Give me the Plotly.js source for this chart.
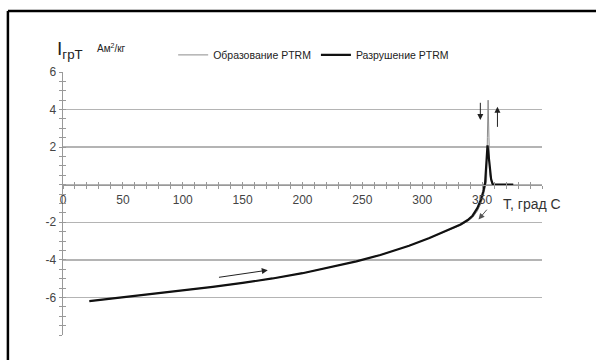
<!DOCTYPE html>
<html>
<head>
<meta charset="utf-8">
<script src="https://cdn.plot.ly/plotly-3.0.1.min.js"></script>
<style>
html,body{margin:0;padding:0;background:#fff;}
#chart{width:596px;height:360px;}
</style>
</head>
<body>
<div id="chart"></div>
<script>
// Data
var seriesNames = ["Образование PTRM", "Разрушение PTRM"];
var tempFormation = [22, 50, 75, 100, 125, 150, 175, 200, 225, 245, 265, 280, 289, 306, 322, 332, 338, 342, 346, 349, 351, 352.5, 353.7, 354.4, 355, 355.7, 356.5, 358, 362, 376];
var valFormation  = [-6.2, -6.0, -5.82, -5.63, -5.44, -5.23, -4.99, -4.71, -4.38, -4.08, -3.74, -3.44, -3.25, -2.84, -2.44, -2.16, -1.94, -1.75, -1.4, -1.0, -0.6, -0.2, 0.2, 2.5, 4.5, 2.5, 0.5, 0.05, 0, 0];
var tempDestruction = [22, 50, 75, 100, 125, 150, 175, 200, 225, 245, 265, 280, 289, 306, 322, 332, 338, 342, 346, 349, 351, 352.5, 354.5, 356, 357.5, 359, 376];
var valDestruction  = [-6.2, -6.0, -5.82, -5.63, -5.44, -5.23, -4.99, -4.71, -4.38, -4.08, -3.74, -3.44, -3.25, -2.84, -2.42, -2.12, -1.88, -1.65, -1.25, -0.8, -0.35, 0.1, 2.1, 1.2, 0.3, 0, 0];
var xTickVals = [0, 50, 100, 150, 200, 250, 300, 350];
var xTickText = ["0", "50", "100", "150", "200", "250", "300", "350"];
var yTickVals = [-8, -6, -4, -2, 0, 2, 4, 6];
var yTickText = ["", "-6", "-4", "-2", "", "2", "4", "6"];
var xTitle = "T, град С";

var yMin = -8, yMax = 6;
var zeroPos = (0 - yMin) / (yMax - yMin);
var yMinor = [];
for (var v = yMin; v <= yMax + 1e-9; v += 0.5) yMinor.push(v);

var tickFont = {family: "Liberation Sans, Arial, sans-serif", size: 12, color: "#444"};
var legFont = "Liberation Sans Narrow, Arial Narrow, Liberation Sans, sans-serif";

var traces = [
  {x: tempFormation, y: valFormation, name: seriesNames[0], type: "scatter", mode: "lines",
   line: {color: "#8c8c8c", width: 1}},
  {x: tempDestruction, y: valDestruction, name: seriesNames[1], type: "scatter", mode: "lines",
   line: {color: "#111", width: 2.2}}
];

var baseX = {
  range: [0, 400], anchor: "free", position: zeroPos, showline: true, linecolor: "#999", linewidth: 1.5,
  showgrid: false, zeroline: false, tickmode: "array", tickvals: xTickVals, ticktext: xTickText,
  ticklen: 3, tickcolor: "#999", tickwidth: 1, automargin: false,
  minor: {tickmode: "linear", tick0: 0, dtick: 10, ticklen: 3, tickcolor: "#999", showgrid: false}
};
var xaxis = Object.assign({}, baseX, {ticks: "outside", tickfont: tickFont});
xaxis.minor = Object.assign({}, baseX.minor, {ticks: "outside"});
var xaxis2 = Object.assign({}, baseX, {overlaying: "x", ticks: "inside", showticklabels: false});
xaxis2.minor = Object.assign({}, baseX.minor, {ticks: "inside"});

var baseY = {
  range: [yMin, yMax], showline: true, linecolor: "#999", linewidth: 1.5, zeroline: false, automargin: false,
  tickmode: "array", tickvals: yTickVals, ticktext: yTickText, ticklen: 3, tickcolor: "#999",
  minor: {tickmode: "array", tickvals: yMinor, ticklen: 3, tickcolor: "#999", showgrid: false}
};
var yaxis = Object.assign({}, baseY, {ticks: "outside", showgrid: true, gridcolor: "#b4b4b4", gridwidth: 1.5, tickfont: tickFont});
yaxis.minor = Object.assign({}, baseY.minor, {ticks: "outside"});
var yaxis2 = Object.assign({}, baseY, {overlaying: "y", ticks: "inside", showgrid: false, showticklabels: false, anchor: "x"});
yaxis2.minor = Object.assign({}, baseY.minor, {ticks: "inside"});

function arrow(tx, ty, hx, hy, col) {
  return {x: hx, y: hy, ax: tx, ay: ty, xref: "x", yref: "y", axref: "x", ayref: "y",
    showarrow: true, arrowhead: 2, arrowsize: 1.2, arrowwidth: 1, arrowcolor: col || "#222", text: ""};
}

var layout = {
  width: 596, height: 360,
  margin: {l: 63, r: 54, t: 72, b: 25},
  paper_bgcolor: "#fff", plot_bgcolor: "#fff",
  showlegend: true,
  legend: {orientation: "h", x: 0.23, xanchor: "left", y: 1.065, yanchor: "middle",
    font: {family: legFont, size: 10.5, color: "#222"}, bgcolor: "rgba(0,0,0,0)", itemwidth: 30},
  xaxis: xaxis, xaxis2: xaxis2, yaxis: yaxis, yaxis2: yaxis2,
  annotations: [
    {xref: "paper", yref: "paper", x: -0.016, y: 1.085, xanchor: "left", yanchor: "middle", showarrow: false,
     text: "I<sub>грТ</sub>", font: {family: "Liberation Sans, Arial, sans-serif", size: 19, color: "#222"}},
    {xref: "paper", yref: "paper", x: 0.066, y: 1.09, xanchor: "left", yanchor: "middle", showarrow: false,
     text: "Ам<sup>2</sup>/кг", font: {family: "Liberation Sans, Arial, sans-serif", size: 10, color: "#222"}},
    {xref: "x", yref: "y", x: 366, y: -1.0, xanchor: "left", yanchor: "middle", showarrow: false,
     text: xTitle, font: {family: "Liberation Sans, Arial, sans-serif", size: 14, color: "#333"}},
    arrow(129, -4.94, 171, -4.55),
    arrow(355, -1.25, 347, -1.85, "#555"),
    arrow(348.5, 4.44, 348.5, 3.45),
    arrow(362.8, 3.0, 362.8, 4.15)
  ],
  shapes: [
    {type: "line", xref: "paper", yref: "paper", x0: -0.115, x1: 1.2, y0: 1.232, y1: 1.232, line: {color: "#000", width: 2.5}},
    {type: "line", xref: "paper", yref: "paper", x0: -0.115, x1: -0.115, y0: 1.232, y1: -0.2, line: {color: "#000", width: 2.5}}
  ]
};
traces.push({x: [0], y: [0], xaxis: "x2", yaxis: "y2", showlegend: false, mode: "markers", marker: {opacity: 0}, hoverinfo: "skip"});
Plotly.newPlot("chart", traces, layout, {staticPlot: true});
</script>
</body>
</html>
